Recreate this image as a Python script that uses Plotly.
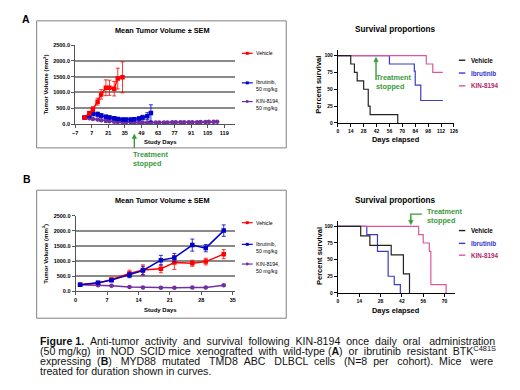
import plotly.graph_objects as go

W, H = 520, 390
OFF = 8  # page body margin in the browser
FONT = "Arial, Liberation Sans, sans-serif"

# ---------------- data ----------------
# Panel A – tumour volume
days_A_veh = [1, 5, 8, 12, 15, 19, 22, 26, 29, 33]
vol_A_veh = [210, 340, 470, 710, 940, 1150, 1150, 1120, 1440, 1480]
sem_A_veh = [30, 60, 80, 110, 150, 250, 240, 230, 330, 490]

days_A_ibr = [1, 5, 8, 12, 15, 19, 22, 26, 29, 33, 36, 40, 43, 47, 50, 54, 57]
vol_A_ibr = [210, 270, 330, 310, 270, 230, 210, 180, 160, 145, 145, 145, 150, 175, 205, 250, 350]
sem_A_ibr = [20, 40, 70, 70, 60, 50, 50, 40, 40, 35, 35, 35, 40, 50, 70, 110, 260]

days_A_kin = [1, 5, 8, 12, 15, 19, 22, 26, 29, 33, 36, 40, 43, 47, 50, 54, 57,
              61, 64, 68, 71, 75, 78, 82, 85, 89, 92, 96, 99, 103, 106, 110, 113]
vol_A_kin = [200, 180, 160, 140, 120, 100, 85, 75, 65, 60, 55, 55, 50, 50, 50, 50, 50,
             50, 50, 50, 50, 55, 55, 55, 55, 60, 60, 60, 65, 65, 70, 70, 72]
sem_A_kin = [15, 15, 15, 15, 12, 12, 10, 10, 10, 10, 10, 10, 8, 8, 8, 8, 8,
             8, 8, 8, 8, 8, 8, 8, 8, 8, 8, 8, 10, 10, 10, 10, 12]

# Panel B – tumour volume
days_B = [1, 5, 8, 12, 15, 19, 22, 26, 29, 33]
vol_B_veh = [217, 272, 391, 590, 706, 745, 955, 930, 985, 1230]
sem_B_veh = [20, 30, 50, 110, 170, 130, 230, 100, 110, 150]
vol_B_ibr = [217, 283, 370, 540, 690, 1030, 1115, 1530, 1430, 2010]
sem_B_ibr = [20, 30, 50, 90, 140, 160, 140, 200, 120, 190]
vol_B_kin = [217, 200, 185, 140, 125, 115, 115, 125, 130, 200]
sem_B_kin = [15, 15, 15, 15, 15, 15, 15, 15, 15, 20]

# Survival A
sA_veh_t = [0, 14, 18, 21, 28, 33, 35, 65]
sA_veh_s = [100, 87.5, 75, 62.5, 50, 25, 12.5, 0]
sA_ibr_t = [0, 56, 83, 84, 90, 114]
sA_ibr_s = [100, 87.5, 77, 56, 33.3, 33.3]
sA_kin_t = [0, 96, 103, 114]
sA_kin_s = [100, 87.5, 75, 75]

# Survival B
sB_veh_t = [0, 15, 21, 35, 43, 47]
sB_veh_s = [100, 85.7, 71.4, 57.1, 28.6, 0]
sB_ibr_t = [0, 19, 26, 33, 37, 41]
sB_ibr_s = [100, 87.5, 62.5, 25, 12.5, 0]
sB_kin_t = [0, 53, 56, 60, 61, 71]
sB_kin_s = [100, 87.5, 75, 62.5, 12.5, 0]

tv_names = ["Vehicle", "Ibrutinib,<br>50 mg/kg", "KIN-8194,<br>50 mg/kg"]
surv_names = ["Vehicle", "Ibrutinib", "KIN-8194"]
tv_ticks = [0, 500, 1000, 1500, 2000, 2500]
surv_yticks = [0, 25, 50, 75, 100]

# caption segments: (text, bold, superscript)
caption = [
    [("Figure 1.", True, False),
     (" Anti-tumor activity and survival following KIN-8194 once daily oral administration", False, False)],
    [("(50 mg/kg) in NOD SCID mice xenografted with wild-type (", False, False), ("A", True, False),
     (") or ibrutinib resistant BTK", False, False), ("C481S", False, True)],
    [("expressing (", False, False), ("B", True, False),
     (") MYD88 mutated TMD8 ABC DLBCL cells (N=8 per cohort). Mice were", False, False)],
    [("treated for duration shown in curves.", False, False)],
]
justify = [True, True, True, False]

RED, BLUE, PURPLE = "#ff0000", "#0000cc", "#7030a0"
S_BLACK, S_BLUE, S_PINK = "#222222", "#3b3bc8", "#e0559a"
TXT_PINK = "#b5246c"
GREEN = "#3a9a3a"

# Arial / Liberation Sans advance widths (1/1000 em)
_REG = {' ': 278, '(': 333, ')': 333, ',': 278, '-': 333, '.': 278, '/': 278, '=': 584}
_REG.update({d: 556 for d in "0123456789"})
_REG.update(dict(zip("ABCDEFGHIJKLMNOPQRSTUVWXYZ",
                     [667, 667, 722, 722, 667, 611, 778, 722, 278, 500, 667, 556, 833, 722, 778, 667,
                      778, 722, 667, 611, 722, 667, 944, 667, 667, 611])))
_REG.update(dict(zip("abcdefghijklmnopqrstuvwxyz",
                     [556, 556, 500, 556, 556, 278, 556, 556, 222, 222, 500, 222, 833, 556, 556, 556,
                      556, 333, 500, 278, 556, 500, 722, 500, 500, 500])))
_BOLD = dict(_REG)
_BOLD.update({'A': 722, 'B': 722, 'F': 611, 'i': 278, 'g': 611, 'u': 611, 'r': 389, 'e': 556})


def seg_width(text, bold, sup, size):
    tbl = _BOLD if bold else _REG
    s = size * (0.7 if sup else 1.0)
    return sum(tbl.get(c, 556) for c in text) * s / 1000.0


def X(px):
    return (px - OFF) / W


def Y(py):
    return 1 - (py - OFF) / H


fig = go.Figure()


def tv_trace(x, y, e, color, symbol, xa, ya):
    return go.Scatter(
        x=x, y=y, mode="lines+markers", xaxis=xa, yaxis=ya, showlegend=False,
        line=dict(color=color, width=1.5),
        marker=dict(color=color, size=4.5, symbol=symbol),
        error_y=dict(type="data", array=e, color=color, thickness=0.8, width=2),
    )


fig.add_trace(tv_trace(days_A_kin, vol_A_kin, sem_A_kin, PURPLE, "circle", "x", "y"))
fig.add_trace(tv_trace(days_A_ibr, vol_A_ibr, sem_A_ibr, BLUE, "square", "x", "y"))
fig.add_trace(tv_trace(days_A_veh, vol_A_veh, sem_A_veh, RED, "square", "x", "y"))

fig.add_trace(tv_trace(days_B, vol_B_kin, sem_B_kin, PURPLE, "circle", "x3", "y3"))
fig.add_trace(tv_trace(days_B, vol_B_veh, sem_B_veh, RED, "square", "x3", "y3"))
fig.add_trace(tv_trace(days_B, vol_B_ibr, sem_B_ibr, BLUE, "square", "x3", "y3"))


def km(t, s, color, xa, ya):
    return go.Scatter(x=t, y=s, mode="lines", line=dict(color=color, width=1.2, shape="hv"),
                      xaxis=xa, yaxis=ya, showlegend=False)


fig.add_trace(km(sA_ibr_t, sA_ibr_s, S_BLUE, "x2", "y2"))
fig.add_trace(km(sA_kin_t, sA_kin_s, S_PINK, "x2", "y2"))
fig.add_trace(km(sA_veh_t, sA_veh_s, S_BLACK, "x2", "y2"))
fig.add_trace(km(sB_ibr_t, sB_ibr_s, S_BLUE, "x4", "y4"))
fig.add_trace(km(sB_kin_t, sB_kin_s, S_PINK, "x4", "y4"))
fig.add_trace(km(sB_veh_t, sB_veh_s, S_BLACK, "x4", "y4"))

tv_x_common = dict(showgrid=False, zeroline=False, showline=True, linecolor="#555", linewidth=1,
                   ticks="outside", ticklen=3, tickcolor="#555",
                   tickfont=dict(size=5.5, family=FONT, color="black", weight="bold"))
tv_y_common = dict(showgrid=True, gridcolor="#8a8a8a", gridwidth=1.6, zeroline=False,
                   showline=True, linecolor="#555", linewidth=1, ticks="outside", ticklen=3,
                   tickcolor="#555", tickvals=tv_ticks, tickformat=".1f", range=[0, 2500],
                   tickfont=dict(size=5.5, family=FONT, color="black", weight="bold"))
surv_x_common = dict(showgrid=False, zeroline=False, showline=True, linecolor="black", linewidth=1,
                     ticks="outside", ticklen=3, tickcolor="black", tick0=0, dtick=14,
                     tickfont=dict(size=5, family=FONT, color="black", weight="bold"))
surv_y_common = dict(showgrid=False, zeroline=False, showline=True, linecolor="black", linewidth=1,
                     ticks="outside", ticklen=3, tickcolor="black", tickvals=surv_yticks,
                     range=[0, 108],
                     tickfont=dict(size=5, family=FONT, color="black", weight="bold"))

fig.update_layout(
    xaxis=dict(domain=[X(73), X(235)], range=[-7, 128], tick0=-7, dtick=14, anchor="y", **tv_x_common),
    yaxis=dict(domain=[Y(122.8), Y(42.7)], anchor="x", **tv_y_common),
    xaxis3=dict(domain=[X(73.5), X(235)], range=[0, 35.5], tick0=0, dtick=7, anchor="y3", **tv_x_common),
    yaxis3=dict(domain=[Y(292.7), Y(216)], anchor="x3", **tv_y_common),
    xaxis2=dict(domain=[X(339.3), X(457)], range=[0, 126], anchor="y2", **surv_x_common),
    yaxis2=dict(domain=[Y(121.7), Y(47.8)], anchor="x2", **surv_y_common),
    xaxis4=dict(domain=[X(339.3), X(458.3)], range=[0, 77], anchor="y4", **surv_x_common),
    yaxis4=dict(domain=[Y(294.3), Y(221.3)], anchor="x4", **surv_y_common),
)

annotations = []
shapes = []


def txt(x, y, text, size, color="black", bold=False, xanchor="center", angle=0, yanchor="middle"):
    annotations.append(dict(
        x=X(x), y=Y(y), xref="paper", yref="paper", text=text, showarrow=False,
        xanchor=xanchor, yanchor=yanchor, textangle=angle, align="left",
        font=dict(size=size, color=color, family=FONT, weight="bold" if bold else "normal"),
    ))


def pline(pts, color, width=1.4):
    path = "M " + " L ".join(f"{X(px)},{Y(py)}" for px, py in pts)
    shapes.append(dict(type="path", xref="paper", yref="paper", path=path,
                       line=dict(color=color, width=width)))


def arrowhead(x, tip_y, color, down=False):
    d = -4.5 if down else 4.5
    path = f"M {X(x)},{Y(tip_y)} L {X(x - 2.3)},{Y(tip_y + d)} L {X(x + 2.3)},{Y(tip_y + d)} Z"
    shapes.append(dict(type="path", xref="paper", yref="paper", path=path,
                       fillcolor=color, line=dict(color=color, width=0.5)))


# boxes around left panels
for (x0, y0, x1, y1) in [(34, 18, 287, 147), (34, 190, 287, 320)]:
    shapes.append(dict(type="rect", xref="paper", yref="paper", x0=X(x0), x1=X(x1), y0=Y(y1), y1=Y(y0),
                       line=dict(color="#808080", width=1)))

# panel letters
txt(23, 8.2, "A", 10.5, bold=True, yanchor="top")
txt(24, 179, "B", 10.5, bold=True)

# left panel texts
for (ty, xt_y, yt_y, leg_y) in [(28, 141, 83, [51, 84, 103]), (200, 312, 255, [223, 248, 268])]:
    txt(162, ty, "Mean Tumor Volume ± SEM", 7.3, bold=True)
    txt(160, xt_y, "Study Days", 6, bold=True)
    txt(43, yt_y, "Tumor Volume (mm<sup>3</sup>)", 6, bold=True, angle=-90)
    for name, col, sym, ly in zip(tv_names, [RED, BLUE, PURPLE], ["square", "square", "circle"], leg_y):
        my = ly - 3 if "<br>" in name else ly
        shapes.append(dict(type="line", xref="paper", yref="paper", x0=X(242), x1=X(253),
                           y0=Y(my), y1=Y(my), line=dict(color=col, width=1.2)))
        shapes.append(dict(type="rect" if sym == "square" else "circle", xref="paper", yref="paper",
                           x0=X(246), x1=X(249), y0=Y(my + 1.5), y1=Y(my - 1.5),
                           fillcolor=col, line=dict(width=0)))
        txt(254, ly, name, 5.2, xanchor="left")

# survival panel texts
for (ty, xt_y, yt_y, leg_y) in [(27, 139, 83, [58, 71, 84]), (200, 311.7, 257, [231, 244, 256])]:
    txt(398, ty, "Survival proportions", 8.2, bold=True)
    txt(398, xt_y, "Days elapsed", 7.4, bold=True)
    txt(320, yt_y, "Percent survival", 7.5, bold=True, angle=-90)
    for name, lc, tc, ly in zip(surv_names, [S_BLACK, S_BLUE, S_PINK], ["black", "#3333cc", TXT_PINK], leg_y):
        shapes.append(dict(type="line", xref="paper", yref="paper", x0=X(462), x1=X(468.5),
                           y0=Y(ly), y1=Y(ly), line=dict(color=lc, width=1.4)))
        txt(472, ly, name, 6.3, color=tc, bold=True, xanchor="left")

# Treatment stopped – panel A left
pline([(133, 147), (133, 136)], GREEN)
arrowhead(133, 133, GREEN)
txt(130, 158.5, "Treatment<br>stopped", 7.3, color=GREEN, bold=True, xanchor="left")
# Treatment stopped – survival A
pline([(378, 78), (378, 58)], GREEN)
arrowhead(378, 55, GREEN)
txt(375.5, 80, "Treatment<br>stopped", 7.3, color=GREEN, bold=True, xanchor="left")
# Treatment stopped – survival B (elbow arrow)
pline([(424.5, 214.3), (413.3, 214.3), (413.3, 221)], GREEN)
arrowhead(413.3, 225, GREEN, down=True)
txt(427.5, 216, "Treatment<br>stopped", 7.3, color=GREEN, bold=True, xanchor="left")

# caption (justified lines 1-3 by inserting non-breaking spaces)
CAP_SIZE = 10.6
CAP_LEFT, CAP_RIGHT = 35, 490
for i, (segs, jus) in enumerate(zip(caption, justify)):
    natural = sum(seg_width(t, b, s, CAP_SIZE) for t, b, s in segs)
    n_spaces = sum(t.count(" ") for t, b, s in segs if not b and not s)
    extra = 0
    if jus and n_spaces:
        extra = max(0, round((CAP_RIGHT - CAP_LEFT - natural) / (0.278 * CAP_SIZE)))
    parts = []
    k = 0
    for t, b, s in segs:
        out = ""
        for c in t:
            if c == " " and not b and not s:
                add = (k + 1) * extra // n_spaces - k * extra // n_spaces
                out += " " + "\u00a0" * add
                k += 1
            else:
                out += c
        if b:
            out = f"<b>{out}</b>"
        if s:
            out = f"<sup>{out}</sup>"
        parts.append(out)
    txt(CAP_LEFT, 343.3 + 10 * i, "".join(parts), CAP_SIZE, color="#111", xanchor="left")

fig.update_layout(
    width=W, height=H, margin=dict(l=0, r=0, t=0, b=0),
    paper_bgcolor="white", plot_bgcolor="white",
    annotations=annotations, shapes=shapes, showlegend=False,
    font=dict(family=FONT),
)

fig.write_html("out.html")
